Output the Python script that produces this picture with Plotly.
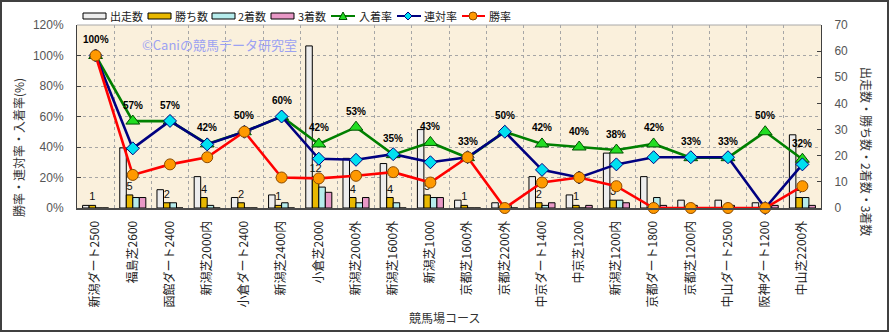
import plotly.graph_objects as go

# ---- data -------------------------------------------------------------
courses = [
    "新潟ダート2500", "福島芝2600", "函館ダート2400", "新潟芝2000内", "小倉ダート2400",
    "新潟芝2400内", "小倉芝2000", "新潟芝2000外", "新潟芝1600外", "新潟芝1000",
    "京都芝1600外", "京都芝2200外", "中京ダート1400", "中京芝1200", "新潟芝1200内",
    "京都ダート1800", "京都芝1200内", "中山ダート2500", "阪神ダート1200", "中山芝2200外",
]
starts = [1, 23, 7, 12, 4, 5, 62, 19, 17, 30, 3, 2, 12, 5, 21, 12, 3, 3, 2, 28]
wins = [1, 5, 2, 4, 2, 1, 12, 4, 4, 5, 1, 0, 2, 1, 3, 0, 0, 0, 0, 4]
seconds = [0, 4, 2, 1, 0, 2, 8, 2, 2, 4, 0, 1, 1, 0, 3, 4, 1, 1, 0, 4]
thirds = [0, 4, 0, 0, 0, 0, 6, 4, 0, 4, 0, 0, 2, 1, 2, 1, 0, 0, 1, 1]

win_rate = [100, 21.7, 28.6, 33.3, 50, 20, 19.4, 21.1, 23.5, 16.7,
            33.3, 0, 16.7, 20, 14.3, 0, 0, 0, 0, 14.3]
quinella_rate = [100, 39.1, 57.1, 41.7, 50, 60, 32.3, 31.6, 35.3, 30,
                 33.3, 50, 25, 20, 28.6, 33.3, 33.3, 33.3, 0, 28.6]
place_rate = [100, 57, 57, 42, 50, 60, 42, 53, 35, 43,
              33, 50, 42, 40, 38, 42, 33, 33, 50, 32]

count_ticks = [0, 10, 20, 30, 40, 50, 60, 70]
rate_ticks = [0, 20, 40, 60, 80, 100, 120]
rate_tick_labels = [f"{v}%" for v in rate_ticks]

# ---- page geometry (pixels) ------------------------------------------
FIG_W, FIG_H = 889, 332
L, T, R, B = 77, 25, 68, 124
PW, PH = FIG_W - L - R, FIG_H - T - B

def px(x):
    return (x - L) / PW

def py(y):
    return (T + PH - y) / PH

JP = "Noto Sans CJK JP"
SANS = "Liberation Sans"

bar_styles = [
    ("出走数", starts, "#EDEDED"),
    ("勝ち数", wins, "#E8B800"),
    ("2着数", seconds, "#B6ECEC"),
    ("3着数", thirds, "#E898C6"),
]
line_styles = [
    ("入着率", place_rate, "#008000", "triangle-up", "#22DD22", "#005000", 12),
    ("連対率", quinella_rate, "#000080", "diamond", "#00E0F0", "#000080", 10),
    ("勝率", win_rate, "#FF0000", "circle", "#FF9900", "#8A4A00", 11),
]

fig = go.Figure()

for name, vals, color in bar_styles:
    kw = {}
    if name == "勝ち数":
        kw = dict(
            text=[str(v) if v > 0 else "" for v in vals],
            textposition="outside",
            constraintext="none",
            cliponaxis=False,
            textfont=dict(family=SANS, size=11, color="#111111"),
        )
    fig.add_trace(go.Bar(
        x=courses, y=vals, name=name, yaxis="y",
        marker=dict(color=color, line=dict(color="#000000", width=1)),
        showlegend=False, **kw,
    ))

for name, vals, lcolor, symbol, fcolor, ecolor, size in line_styles:
    fig.add_trace(go.Scatter(
        x=courses, y=vals, name=name, yaxis="y2", mode="lines+markers",
        line=dict(color=lcolor, width=2.6),
        marker=dict(symbol=symbol, size=size, color=fcolor,
                    line=dict(color=ecolor, width=1)),
        cliponaxis=False, showlegend=False,
    ))

annotations = []
# 入着率 value labels
for c, v in zip(courses, place_rate):
    annotations.append(dict(
        x=c, y=v, xref="x", yref="y2", yshift=16, showarrow=False,
        text=f"<b>{v}%</b>", font=dict(family=SANS, size=10, color="#000000"),
    ))

shapes = []
# legend row
legend_bars = [(83, 106, 108), (148, 171, 173), (212, 235, 236), (271, 294, 296)]
for (x0, x1, xt), (name, _, color) in zip(legend_bars, bar_styles):
    shapes.append(dict(type="rect", xref="paper", yref="paper",
                       x0=px(x0), x1=px(x1), y0=py(19), y1=py(13),
                       fillcolor=color, line=dict(color="#000000", width=1)))
    annotations.append(dict(x=px(xt), y=py(16), xref="paper", yref="paper",
                            xanchor="left", yanchor="middle", showarrow=False,
                            text=name, font=dict(family=JP, size=11, color="#222222")))

legend_lines = [(331, 355, 343, 357), (397, 421, 408, 422), (462, 485, 473, 487)]
for (x0, x1, xm, xt), (name, _, lcolor, symbol, fcolor, ecolor, _s) in zip(legend_lines, line_styles):
    shapes.append(dict(type="line", xref="paper", yref="paper",
                       x0=px(x0), x1=px(x1), y0=py(16), y1=py(16),
                       line=dict(color=lcolor, width=2)))
    if symbol == "triangle-up":
        path = (f"M {px(xm)},{py(12)} L {px(xm + 4)},{py(19.5)} "
                f"L {px(xm - 4)},{py(19.5)} Z")
        shapes.append(dict(type="path", xref="paper", yref="paper", path=path,
                           fillcolor=fcolor, line=dict(color=ecolor, width=1)))
    elif symbol == "diamond":
        path = (f"M {px(xm)},{py(12)} L {px(xm + 4)},{py(16)} "
                f"L {px(xm)},{py(20)} L {px(xm - 4)},{py(16)} Z")
        shapes.append(dict(type="path", xref="paper", yref="paper", path=path,
                           fillcolor=fcolor, line=dict(color=ecolor, width=1)))
    else:
        shapes.append(dict(type="circle", xref="paper", yref="paper",
                           x0=px(xm - 4), x1=px(xm + 4), y0=py(20), y1=py(12),
                           fillcolor=fcolor, line=dict(color=ecolor, width=1)))
    annotations.append(dict(x=px(xt), y=py(16), xref="paper", yref="paper",
                            xanchor="left", yanchor="middle", showarrow=False,
                            text=name, font=dict(family=JP, size=11, color="#222222")))

# watermark
annotations.append(dict(x=px(140), y=py(44), xref="paper", yref="paper",
                        xanchor="left", yanchor="middle", showarrow=False,
                        text="©Caniの競馬データ研究室",
                        font=dict(family=JP, size=13, color="#9CA2F2")))
# axis titles
annotations.append(dict(x=px(18), y=py(148), xref="paper", yref="paper",
                        xanchor="center", yanchor="middle",
                        showarrow=False, textangle=-90,
                        text="勝率・連対率・入着率(%)",
                        font=dict(family=JP, size=12, color="#333333")))
annotations.append(dict(x=px(867), y=py(151), xref="paper", yref="paper",
                        xanchor="center", yanchor="middle",
                        showarrow=False, textangle=90,
                        text="出走数・勝ち数・2着数・3着数",
                        font=dict(family=JP, size=12, color="#333333")))
annotations.append(dict(x=px(444), y=py(317), xref="paper", yref="paper",
                        xanchor="center", yanchor="middle",
                        showarrow=False, text="競馬場コース",
                        font=dict(family=JP, size=12, color="#333333")))

# top edge of the plot area and the outer frame
shapes.append(dict(type="line", xref="paper", yref="paper",
                   x0=0, x1=1, y0=1, y1=1, line=dict(color="#A8A8A8", width=1)))
shapes.append(dict(type="rect", xref="paper", yref="paper",
                   x0=px(1), x1=px(888), y0=py(331), y1=py(1),
                   line=dict(color="#404040", width=2)))

fig.update_layout(
    width=FIG_W, height=FIG_H,
    margin=dict(l=L, r=R, t=T, b=B, autoexpand=False),
    paper_bgcolor="#FFFFFF",
    plot_bgcolor="#FAF0DC",
    font=dict(family=JP, size=12, color="#333333"),
    barmode="group", bargap=0.3, bargroupgap=0,
    showlegend=False,
    xaxis=dict(
        type="category", range=[-0.5, len(courses) - 0.5],
        tickson="boundaries", ticks="", tickangle=-90,
        tickfont=dict(family=JP, size=12, color="#222222"),
        ticklabelstandoff=6,
        showgrid=True, gridcolor="#A6A6A6", griddash="dot", gridwidth=1,
        showline=True, linecolor="#4A4A4A", linewidth=2,
    ),
    yaxis=dict(
        side="right", range=[0, 70], tickvals=count_ticks,
        ticks="inside", ticklen=4, tickcolor="#404040",
        tickfont=dict(family=SANS, size=12, color="#555555"),
        ticklabelstandoff=10,
        showgrid=False, zeroline=False,
        showline=True, linecolor="#404040", linewidth=1,
    ),
    yaxis2=dict(
        overlaying="y", side="left", range=[0, 120],
        tickmode="array", tickvals=rate_ticks, ticktext=rate_tick_labels,
        ticks="inside", ticklen=4, tickcolor="#404040",
        tickfont=dict(family=SANS, size=12, color="#555555"),
        ticklabelstandoff=10,
        showgrid=True, gridcolor="#A6A6A6", griddash="dot", gridwidth=1,
        zeroline=False, showline=True, linecolor="#404040", linewidth=1,
    ),
    annotations=annotations,
    shapes=shapes,
)

fig.write_html("out.html")
